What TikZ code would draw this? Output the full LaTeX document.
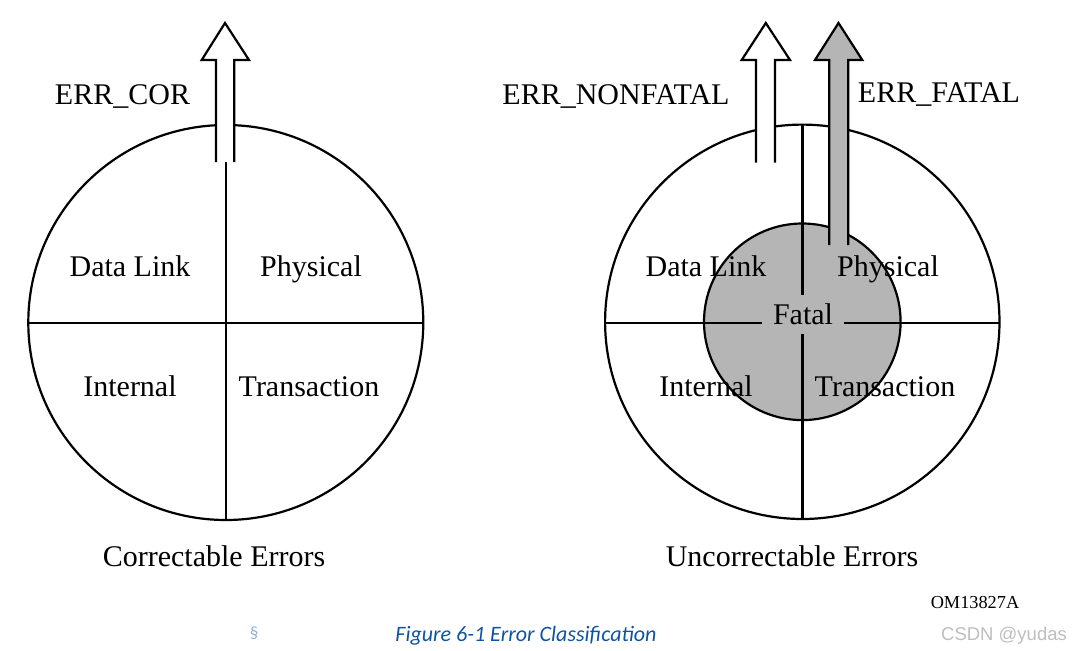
\documentclass[tikz,border=0pt]{standalone}
\usepackage{fontspec}
\setmainfont{Liberation Serif}
\newfontfamily\capfont{Carlito}
\newfontfamily\wmfont{Liberation Sans}
\definecolor{fillgray}{RGB}{181,181,181}
\definecolor{capblue}{RGB}{14,84,158}
\definecolor{secblue}{RGB}{140,175,215}
\definecolor{wmgray}{RGB}{190,190,190}
\begin{document}
\begin{tikzpicture}[x=1pt,y=-1pt,
  line/.style={line width=2.2pt},
  lbl/.style={anchor=base,inner sep=0pt,font=\fontsize{30}{36}\selectfont},
  arrowline/.style={line width=2.2pt,line join=miter}]
\useasboundingbox (0,0) rectangle (1072,651);
% ---- left circle ----
\coordinate (lc) at (225.8,322.5);
\draw[line] (lc) circle[radius=197.5];
\draw[line] (225.8,125) -- (225.8,520);
\draw[line] (28.3,322.7) -- (423.3,322.7);
% ---- right circle ----
\coordinate (rc) at (802.3,321.8);
\draw[line] (rc) circle[radius=197.2];
\fill[fillgray] (rc) circle[radius=98.3];
\draw[line] (rc) circle[radius=98.3];
\draw[line] (802.5,125) -- (802.5,518.5);
\draw[line] (605,322.7) -- (999.5,322.7);
\node[fill=fillgray,inner sep=0pt,minimum width=82pt,minimum height=39pt,
      font=\fontsize{30}{36}\selectfont] (fatal) at (803,314.5) {Fatal};
% ---- arrows ----
\fill[white] (216,162) -- (216,60) -- (201.7,60) -- (225,23) -- (249,60) -- (234.3,60) -- (234.3,162) -- cycle;
\draw[arrowline] (216,162) -- (216,60) -- (201.7,60) -- (225,23) -- (249,60) -- (234.3,60) -- (234.3,162);
\fill[white] (756,162.5) -- (756,60) -- (741.7,60) -- (765.8,23) -- (790,60) -- (775,60) -- (775,162.5) -- cycle;
\draw[arrowline] (756,162.5) -- (756,60) -- (741.7,60) -- (765.8,23) -- (790,60) -- (775,60) -- (775,162.5);
\fill[fillgray] (829.3,245) -- (829.3,60) -- (815,60) -- (838.5,23) -- (862.3,60) -- (848.3,60) -- (848.3,245) -- cycle;
\draw[arrowline] (829.3,245) -- (829.3,60) -- (815,60) -- (838.5,23) -- (862.3,60) -- (848.3,60) -- (848.3,245);
% ---- labels ----
\node[lbl] (errcor) at (122.5,104) {ERR\_COR};
\node[lbl] (errnf) at (616,104) {ERR\_NONFATAL};
\node[lbl] (errf) at (939,102) {ERR\_FATAL};
\node[lbl] (ldl) at (130,276) {Data Link};
\node[lbl] (lph) at (311,276) {Physical};
\node[lbl] (lin) at (130,396) {Internal};
\node[lbl] (ltr) at (309,396) {Transaction};
\node[lbl] (rdl) at (706,276) {Data Link};
\node[lbl] (rph) at (888,276) {Physical};
\node[lbl] (rin) at (706,396) {Internal};
\node[lbl] (rtr) at (885,396) {Transaction};
\node[lbl] (ce) at (214,566) {Correctable Errors};
\node[lbl] (ue) at (792,566) {Uncorrectable Errors};
\node[anchor=base,inner sep=0pt,font=\fontsize{18.3}{22}\selectfont] (om) at (975,608) {OM13827A};
\node[anchor=base,inner sep=0pt,text=secblue,font=\capfont\fontsize{17}{20}\selectfont] (sec) at (254,638) {§};
\node[anchor=base,inner sep=0pt,text=capblue,font=\capfont\itshape\fontsize{22}{26}\selectfont] (cap) at (526,641) {Figure 6-1 Error Classification};
\node[anchor=base,inner sep=0pt,text=wmgray,font=\wmfont\fontsize{18.5}{22}\selectfont] (wm) at (1004,640) {CSDN @yudas};
\end{tikzpicture}
\end{document}
